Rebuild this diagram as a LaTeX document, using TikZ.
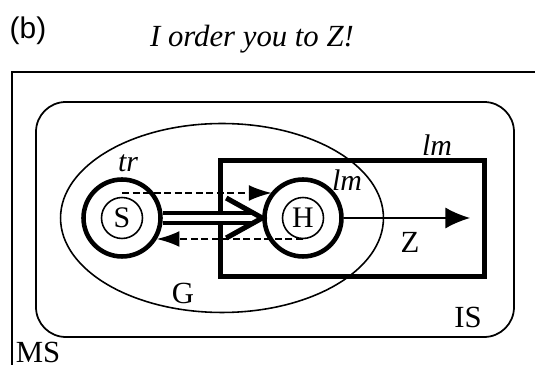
\documentclass[tikz,border=0pt]{standalone}
\usepackage{fontspec}
\setmainfont{Liberation Serif}
\newfontfamily\panelfont{Liberation Sans}
\usepackage{tikz}
\usetikzlibrary{shapes.geometric, arrows.meta, positioning, calc}
\tikzset{
    outerring/.style={circle, draw, line width=2.6pt, minimum size=1.54cm, inner sep=0pt},
    innerring/.style={circle, draw, line width=0.9pt, minimum size=0.82cm, inner sep=0pt, font=\fontsize{17}{17}\selectfont},
    speechact/.style={dash pattern=on 4pt off 2pt, line width=1.1pt, -{Latex[length=13pt, width=9pt]}},
    lbl/.style={font=\fontsize{17.5}{17.5}\selectfont, inner sep=0pt},
    ilbl/.style={font=\fontsize{17}{17}\selectfont\itshape, inner sep=0pt}
}

\begin{document}
\begin{tikzpicture}[x=0.02cm, y=0.02cm]
    \useasboundingbox (0,0) rectangle (535,365);
    \node[font=\panelfont\fontsize{17}{17}\selectfont, inner sep=0pt] (panel) at (28,334) {(b)};
    \node[font=\fontsize{17.5}{17.5}\selectfont\itshape, inner sep=0pt] (utter) at (252,326) {I order you to Z!};

    % mental state and institutional setting
    \draw[line width=1.2pt] (12,-10) |- (545,293);
    \node[lbl] (ms) at (38,13) {MS};
    \draw[line width=1pt, rounded corners=17pt] (36,28) rectangle (514,263);
    \node[lbl] (is) at (468,48) {IS};
    \node[ellipse, draw, line width=0.9pt, minimum width=6.46cm, minimum height=3.78cm, inner sep=0pt] (group) at (222,147) {};
    \node[lbl] (glabel) at (183,72) {G};
    \node[draw, line width=2.7pt, minimum width=5.29cm, minimum height=2.33cm, inner sep=0pt] (lmbox) at (352.5,146.5) {};
    \node[ilbl] (lmtop) at (437,220) {lm};

    % speaker and hearer
    \node[outerring] (So) at (122,147) {};
    \node[innerring] (S) at (So) {S};
    \node[outerring] (Ho) at (303,147) {};
    \node[innerring] (H) at (Ho) {H};
    \node[ilbl] (tr) at (128,202) {tr};
    \node[ilbl] (lmh) at (347,185) {lm};

    \draw[line width=2.55pt, double distance=3.1pt] (So.east) -- ($(Ho.west)+(-8,0)$);
    \draw[line width=2.9pt, line join=miter] ($(Ho.west)+(-36,20)$) -- (Ho.west) -- ($(Ho.west)+(-36,-20)$);

    \coordinate (sTop) at ($(So.center)+(0,25)$);
    \coordinate (hBot) at ($(Ho.center)+(0,-21)$);
    \draw[speechact] (sTop) -- (sTop -| Ho.140);
    \draw[speechact] (hBot) -- (hBot -| So.-32);

    \coordinate (zend) at (470,147);
    \draw[line width=0.9pt, -{Latex[length=14pt, width=12pt]}] (Ho.east) -- (zend);
    \node[lbl] (zlabel) at (410,123) {Z};
\end{tikzpicture}
\end{document}
